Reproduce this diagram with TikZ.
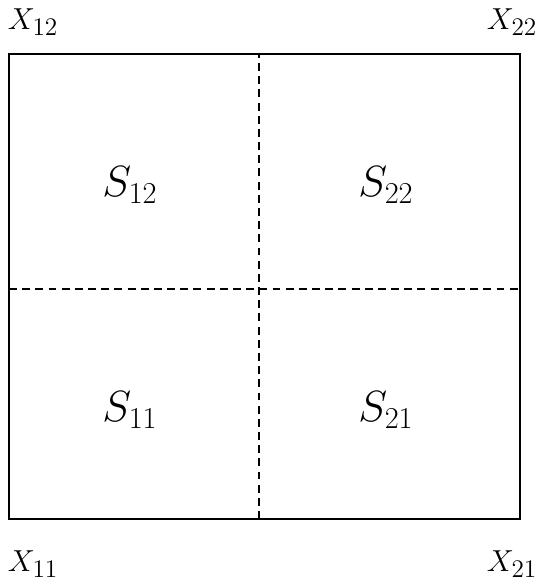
\documentclass[tikz,border=0pt]{standalone}
\usepackage{tikz}
\usetikzlibrary{positioning,calc}

\begin{document}
\begin{tikzpicture}[x=0.02cm,y=-0.02cm,
  cell/.style={font=\fontsize{27}{30}\selectfont},
  corner/.style={font=\fontsize{19}{22}\selectfont},
  divider/.style={line width=1.1pt,dash pattern=on 4.5pt off 3pt}]
  \useasboundingbox (0,0) rectangle (539,581);
  % coins
  \coordinate (c11) at (9,519);
  \coordinate (c21) at (520,519);
  \coordinate (c12) at (9,54);
  \coordinate (c22) at (520,54);
  % milieux des cotes
  \coordinate (mb) at (259,519);
  \coordinate (mt) at (259,54);
  \coordinate (ml) at (9,289);
  \coordinate (mr) at (520,289);
  % carre
  \draw[line width=1.1pt] (c11) -- (c21) -- (c22) -- (c12) -- cycle;
  % decoupage
  \draw[divider] (mb) -- (mt);
  \draw[divider] (ml) -- (mr);
  % sous-domaines
  \node[cell] (s12) at (130,185) {$S_{12}$};
  \node[cell] (s22) at (386,185) {$S_{22}$};
  \node[cell] (s11) at (130,410) {$S_{11}$};
  \node[cell] (s21) at (386,410) {$S_{21}$};
  % sommets
  \node[corner] (x12) at (33,22) {$X_{12}$};
  \node[corner] (x22) at (512,22) {$X_{22}$};
  \node[corner] (x11) at (33,564) {$X_{11}$};
  \node[corner] (x21) at (512,564) {$X_{21}$};
\end{tikzpicture}
\end{document}
